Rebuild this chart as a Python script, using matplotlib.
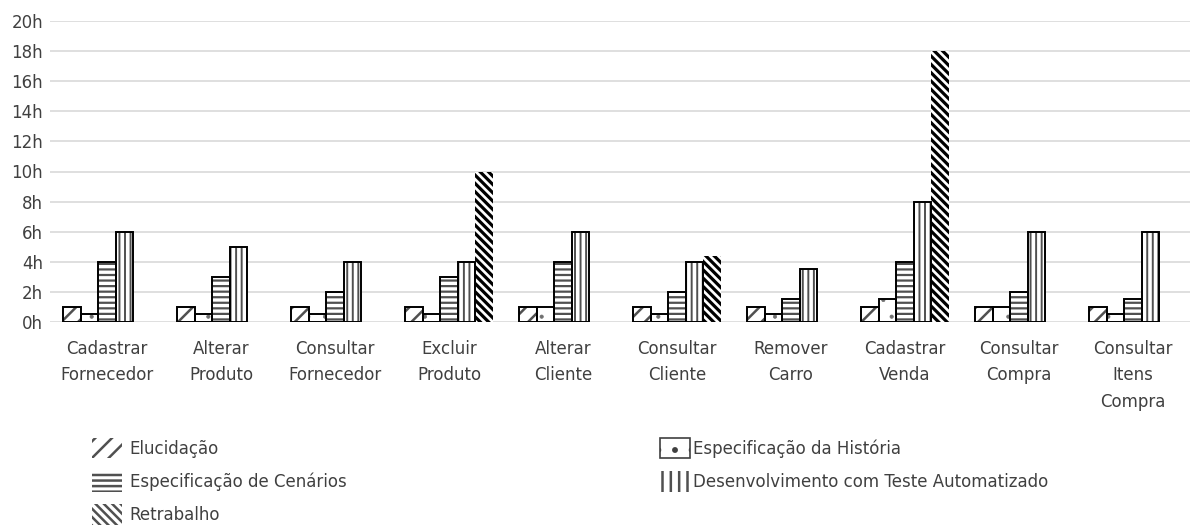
import matplotlib
matplotlib.use("Agg")
import matplotlib.pyplot as plt
import matplotlib.patches as mpatches
import numpy as np

plt.rcParams['font.family'] = ['DejaVu Sans']
plt.rcParams['hatch.linewidth'] = 1.8

categorias = ["Cadastrar\nFornecedor", "Alterar\nProduto", "Consultar\nFornecedor",
              "Excluir\nProduto", "Alterar\nCliente", "Consultar\nCliente",
              "Remover\nCarro", "Cadastrar\nVenda", "Consultar\nCompra",
              "Consultar\nItens\nCompra"]

elucidacao = [1, 1, 1, 1, 1, 1, 1, 1, 1, 1]
espec_historia = [0.5, 0.5, 0.5, 0.5, 1, 0.5, 0.5, 1.5, 1, 0.5]
espec_cenarios = [4, 3, 2, 3, 4, 2, 1.5, 4, 2, 1.5]
desenvolvimento = [6, 5, 4, 4, 6, 4, 3.5, 8, 6, 6]
retrabalho = [0, 0, 0, 10, 0, 4.4, 0, 18, 0, 0]

# nome, valores, hachura, cor da hachura, espessura da hachura, contorno
series = [
    ("Elucidação", elucidacao, '//', '#505050', 1.8, True),
    ("Especificação da História", espec_historia, '.', '#707070', 0.5, True),
    ("Especificação de Cenários", espec_cenarios, '---', '#505050', 1.6, True),
    ("Desenvolvimento com Teste Automatizado", desenvolvimento, '|||', '#505050', 1.4, True),
    ("Retrabalho", retrabalho, '\\\\\\\\', 'black', 2.3, False),
]

fig = plt.figure(figsize=(11.97, 5.28), dpi=100)
ax = fig.add_axes([50 / 1197, 1 - 322 / 528, 1140 / 1197, 301 / 528])

x = np.arange(len(categorias))
w = 0.1535
for i, (nome, vals, hatch, hcor, hlw, borda) in enumerate(series):
    pos = x + (i - 2) * w
    hb = ax.bar(pos, vals, width=w, color='white', edgecolor=hcor,
                hatch=hatch, linewidth=0, zorder=2)
    for p in hb:
        if hasattr(p, 'set_hatch_linewidth'):
            p.set_hatch_linewidth(hlw)
    if borda:
        ax.bar(pos, vals, width=w, facecolor='none', edgecolor='black',
               linewidth=1.4, zorder=3)

ax.set_xlim(-0.5, len(categorias) - 0.5)
ax.set_ylim(0, 20)
ax.set_yticks(range(0, 21, 2))
ax.set_yticklabels([f"{v}h" for v in range(0, 21, 2)])
ax.set_xticks(x)
ax.set_xticklabels(categorias, linespacing=1.6)
ax.tick_params(axis='both', length=0, labelsize=12, colors='#404040')
ax.tick_params(axis='x', pad=13)
ax.tick_params(axis='y', pad=5)
ax.grid(axis='y', color='#d9d9d9', linewidth=1.2, zorder=0)
ax.set_axisbelow(True)
for s in ax.spines.values():
    s.set_visible(False)


def icone(hatch, cor, hlw, borda):
    p = mpatches.Patch(facecolor='white', edgecolor=cor, hatch=hatch,
                       linewidth=1.2 if borda else 0)
    if hasattr(p, 'set_hatch_linewidth'):
        p.set_hatch_linewidth(hlw)
    return p


h_esq = [icone('//', '#505050', 2.0, False), icone('---', '#505050', 1.8, False),
         icone('\\\\\\\\', '#505050', 1.6, False)]
l_esq = ["Elucidação", "Especificação de Cenários", "Retrabalho"]
h_dir = [icone('.', '#404040', 0.5, True), icone('||', '#505050', 1.6, False)]
l_dir = ["Especificação da História", "Desenvolvimento com Teste Automatizado"]

leg_kw = dict(loc='upper left', frameon=False, fontsize=12, borderpad=0,
              borderaxespad=0, handlelength=1.8, handleheight=1.5,
              labelspacing=0.77, labelcolor='#404040')
leg1 = fig.legend(h_esq, l_esq, bbox_to_anchor=(92 / 1197, 1 - 438 / 528),
                  handletextpad=0.45, **leg_kw)
leg2 = fig.legend(h_dir, l_dir, bbox_to_anchor=(660 / 1197, 1 - 438 / 528),
                  handletextpad=0.2, **leg_kw)

fig.savefig("out.png", dpi=100)
